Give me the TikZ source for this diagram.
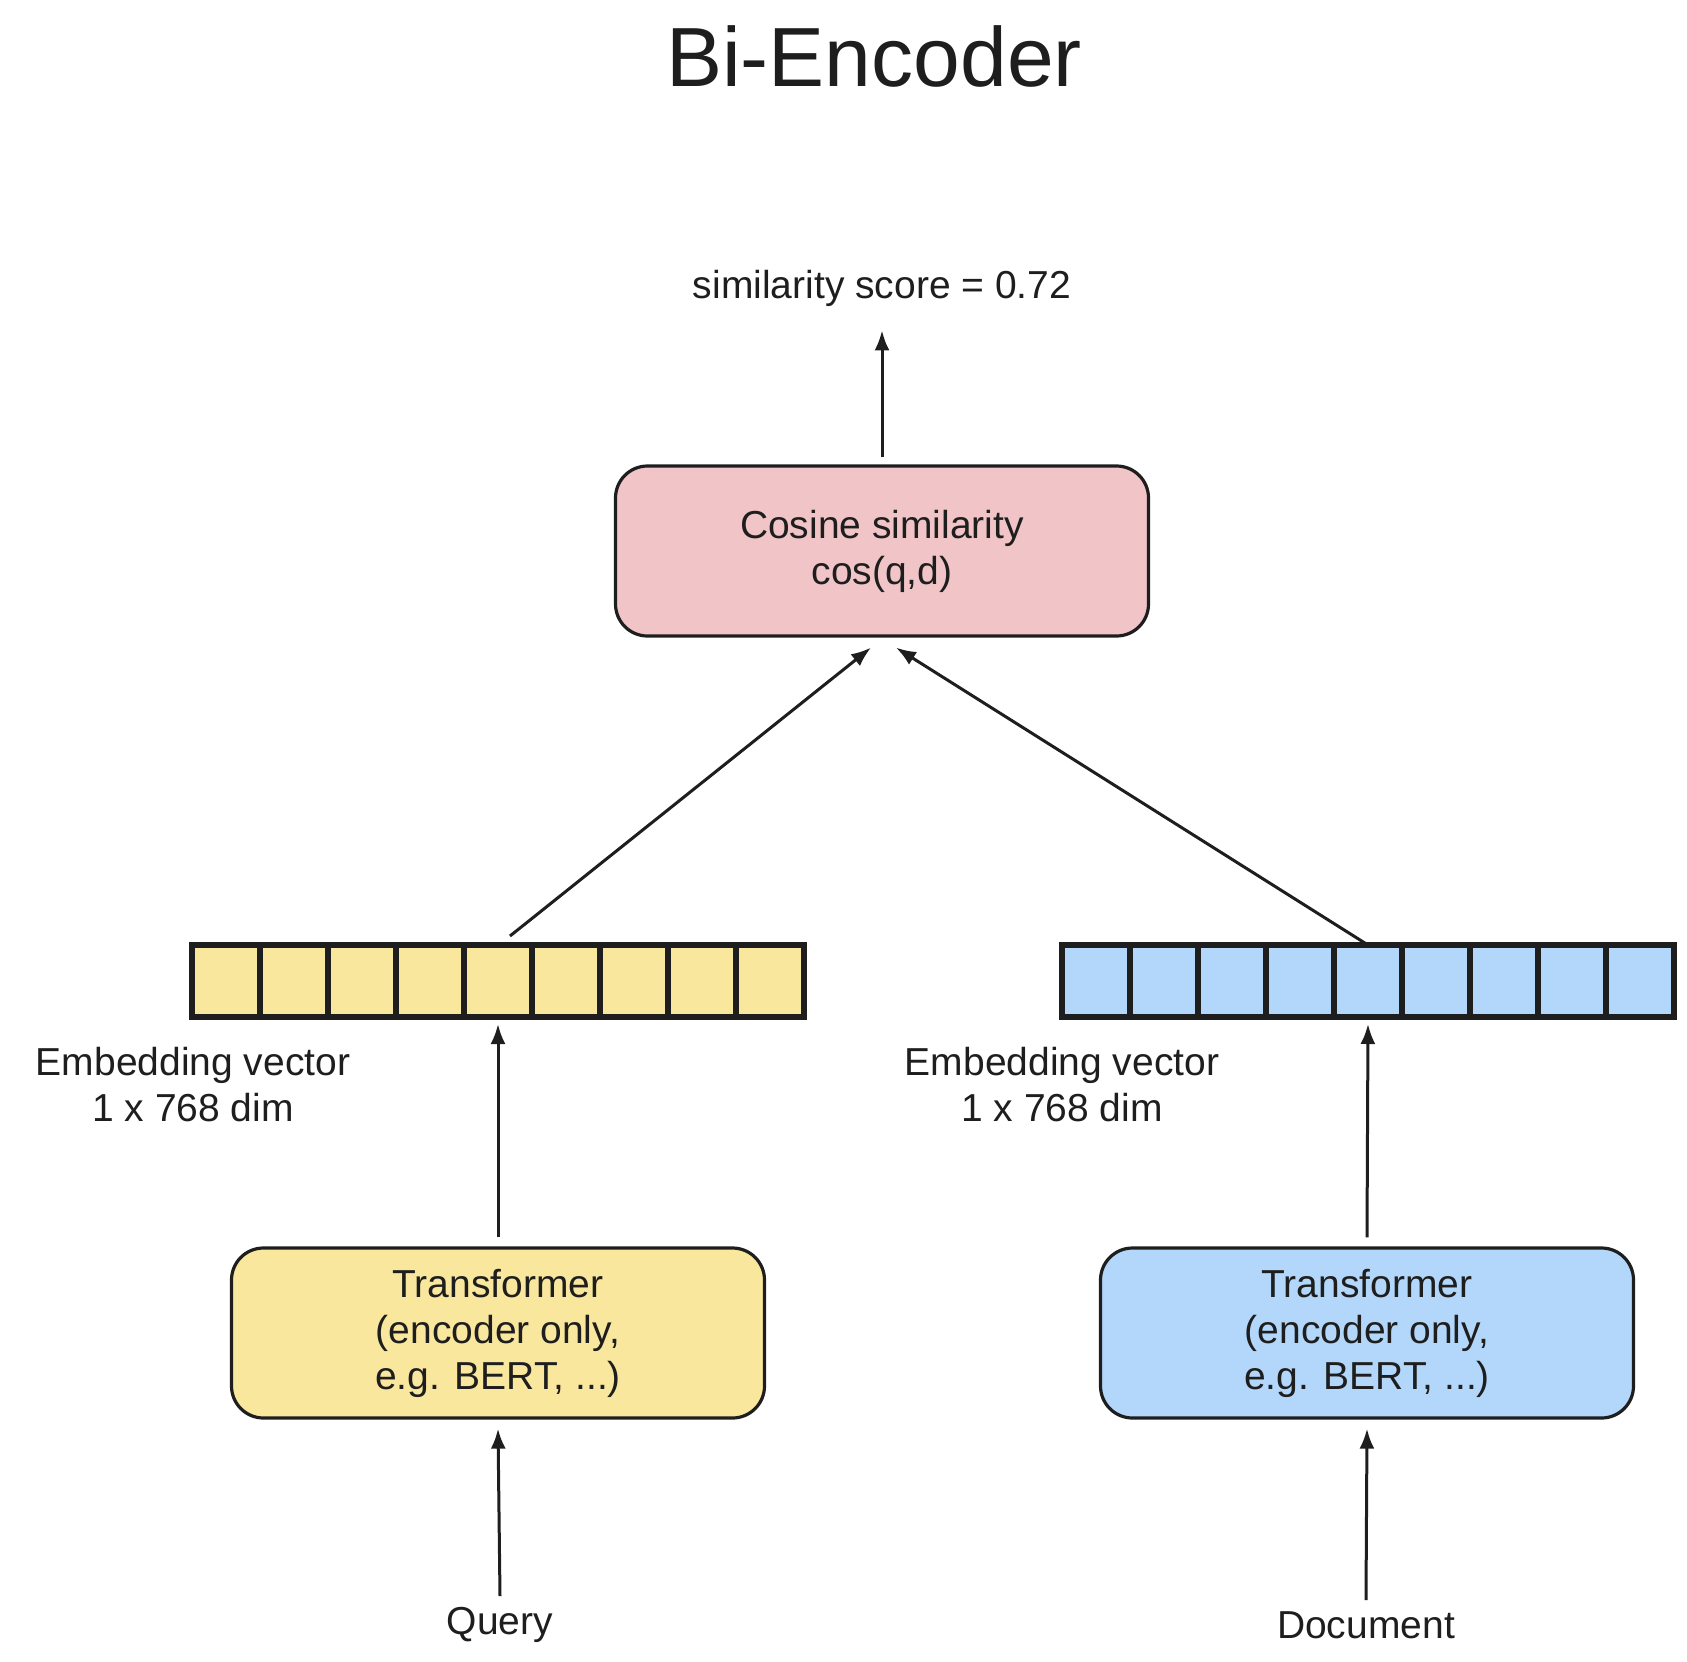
\documentclass[tikz,border=0pt]{standalone}
\usepackage{fontspec}
\setmainfont{Liberation Sans}
\usetikzlibrary{positioning,arrows.meta}
\definecolor{amarillo}{HTML}{F9E79D}
\definecolor{azul}{HTML}{B2D7FB}
\definecolor{rosa}{HTML}{F1C5C7}
\definecolor{tinta}{HTML}{1E1E1E}

\begin{document}
\begin{tikzpicture}[
    x=1pt, y=-1pt,
    every node/.style={text=tinta, font=\fontsize{39}{46}\selectfont},
    caja/.style={
        draw=tinta,
        line width=3.2pt,
        rounded corners=32pt,
        minimum width=533pt,
        minimum height=170pt,
        align=center,
        inner sep=0pt
    },
    celda/.style={
        draw=tinta,
        line width=6pt,
        minimum width=68pt,
        minimum height=72pt,
        inner sep=0pt,
        outer sep=0pt
    },
    etiqueta/.style={align=center, inner sep=0pt},
    flecha/.style={-{Latex[length=20pt,width=15pt]},line width=3pt,draw=tinta}
]
\useasboundingbox (0,0) rectangle (1687,1662);

\node[etiqueta, font=\fontsize{84}{90}\selectfont] (titulo) at (874,56) {Bi-Encoder};
\node[etiqueta] (puntaje) at (882,288) {similarity score = 0.72};

\node[caja, fill=rosa] (cos) at (882,551) {Cosine similarity\\cos(q,d)};

% vectores de embedding
\foreach \i in {1,...,9} {
    \node[celda, fill=amarillo] (q\i) at ({192+68*(\i-0.5)},981) {};
    \node[celda, fill=azul] (d\i) at ({1062+68*(\i-0.5)},981) {};
}

\node[etiqueta] (embq) at (193,1085) {Embedding vector\\1 x 768 dim};
\node[etiqueta] (embd) at (1062,1085) {Embedding vector\\1 x 768 dim};

\node[caja, fill=amarillo] (tq) at (498,1333) {Transformer\\(encoder only,\\e.g. BERT, ...)};
\node[caja, fill=azul] (td) at (1367,1333) {Transformer\\(encoder only,\\e.g. BERT, ...)};

\node[etiqueta] (query) at (500,1625) {Query};
\node[etiqueta] (documento) at (1366,1625) {Document};

\coordinate (llegadaQ) at ([xshift=-11pt,yshift=-10pt]cos.south);
\coordinate (llegadaD) at ([xshift=14pt,yshift=-10pt]cos.south);

\draw[flecha] ([yshift=7pt]cos.north) -- ([yshift=-24pt]puntaje.south);
\draw[flecha] ([xshift=12pt,yshift=9pt]q5.north) -- (llegadaQ);
\draw[flecha] (d5.north) -- (llegadaD);

\draw[flecha] ([yshift=9pt]tq.north) -- ([yshift=-7pt]q5.south);
\draw[flecha] ([yshift=9pt]td.north) -- ([yshift=-7pt]d5.south);

\draw[flecha] ([yshift=11pt]query.north) -- ([yshift=-9pt]tq.south);
\draw[flecha] ([yshift=11pt]documento.north) -- ([yshift=-9pt]td.south);

\end{tikzpicture}
\end{document}
